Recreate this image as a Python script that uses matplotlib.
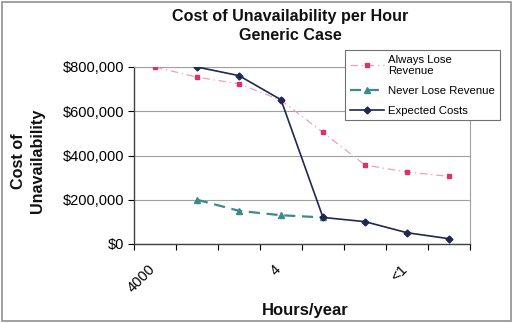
import matplotlib
matplotlib.use("Agg")
import matplotlib.pyplot as plt
from matplotlib.ticker import FuncFormatter
from matplotlib.patches import Rectangle
from matplotlib.transforms import ScaledTranslation

plt.rcParams['font.family'] = ['Liberation Sans', 'DejaVu Sans']

categories = ["4000", "", "", "4", "", "", "<1", ""]
always_lose = [800000, 754000, 724000, 650000, 504000, 357000, 325000, 306000]
never_lose = [None, 200000, 150000, 130000, 120000, None, None, None]
expected = [None, 800000, 761000, 652000, 120000, 101000, 51000, 24000]

def series(vals):
    xs = [i for i, v in enumerate(vals) if v is not None]
    ys = [v for v in vals if v is not None]
    return xs, ys

fig = plt.figure(figsize=(5.13, 3.23), dpi=100)
ax = fig.add_axes([134/513, 1-244/323, (470-134)/513, (244-67)/323])

x, y = series(always_lose)
ax.plot(x, y, color='#F0A0B4', lw=0.9, ls=(0, (6, 3, 1, 3)), marker='s', ms=2.6,
        mfc='#E0306A', mec='#E0306A', label='Always Lose\nRevenue', zorder=3)
x, y = series(never_lose)
ax.plot(x, y, color='#3A8C8C', lw=1.6, ls=(0, (5, 3)), marker='^', ms=4.5,
        mfc='#3A8C8C', mec='#3A8C8C', label='Never Lose Revenue', zorder=4)
x, y = series(expected)
ax.plot(x, y, color='#1E2850', lw=1.2, marker='D', ms=3.5,
        mfc='#1E2850', mec='#1E2850', label='Expected Costs', zorder=5)

ax.set_xlim(-0.5, len(categories) - 0.5)
ax.set_ylim(0, 800000)
ax.set_yticks([0, 200000, 400000, 600000, 800000])
ax.yaxis.set_major_formatter(FuncFormatter(lambda v, p: f"${v:,.0f}"))
ax.tick_params(axis='y', labelsize=10.5, length=4, direction='out', width=0.8, pad=3)
ax.grid(axis='y', color='#A0A0A0', lw=0.8)
ax.set_axisbelow(True)

ax.set_xticks([i - 0.5 for i in range(len(categories) + 1)], minor=False)
ax.set_xticklabels([])
ax.set_xticks(range(len(categories)), minor=True)
ax.set_xticklabels(categories, minor=True, rotation=45, ha='right', va='top',
                   rotation_mode='anchor', fontsize=10.5)
ax.tick_params(axis='x', which='major', length=4, direction='out', width=0.8)
ax.tick_params(axis='x', which='minor', length=0, pad=13)
offset = ScaledTranslation(-7/100, 0, fig.dpi_scale_trans)
for lab in ax.xaxis.get_minorticklabels():
    lab.set_transform(lab.get_transform() + offset)

for s in ['top', 'right']:
    ax.spines[s].set_color('#A0A0A0')
    ax.spines[s].set_linewidth(0.8)
for s in ['left', 'bottom']:
    ax.spines[s].set_color('#404040')
    ax.spines[s].set_linewidth(1.0)

fig.text(290/513, 1-26/323, "Cost of Unavailability per Hour\nGeneric Case",
         ha='center', va='center', fontsize=11.6, fontweight='bold',
         linespacing=1.3, color='#111111')
fig.text(28/513, 1-161/323, "Cost of\nUnavailability", rotation=90,
         ha='center', va='center', fontsize=11.6, fontweight='bold',
         linespacing=1.4, color='#111111')
fig.text(305/513, 1-311/323, "Hours/year", ha='center', va='center',
         fontsize=12, fontweight='bold', color='#111111')

leg = fig.legend(loc='upper left', bbox_to_anchor=(345/513, 1-50/323),
                 borderaxespad=0,
                 fontsize=8.2, frameon=True, fancybox=False, framealpha=1,
                 edgecolor='#707070', handlelength=3.0, handletextpad=0.4,
                 labelspacing=0.85, borderpad=0.4)
leg.get_frame().set_linewidth(0.8)

fig.patches.append(Rectangle((0.004, 0.006), 0.992, 0.988, transform=fig.transFigure,
                             fill=False, edgecolor='#909090', lw=1.2))

fig.savefig("out.png", dpi=100)
